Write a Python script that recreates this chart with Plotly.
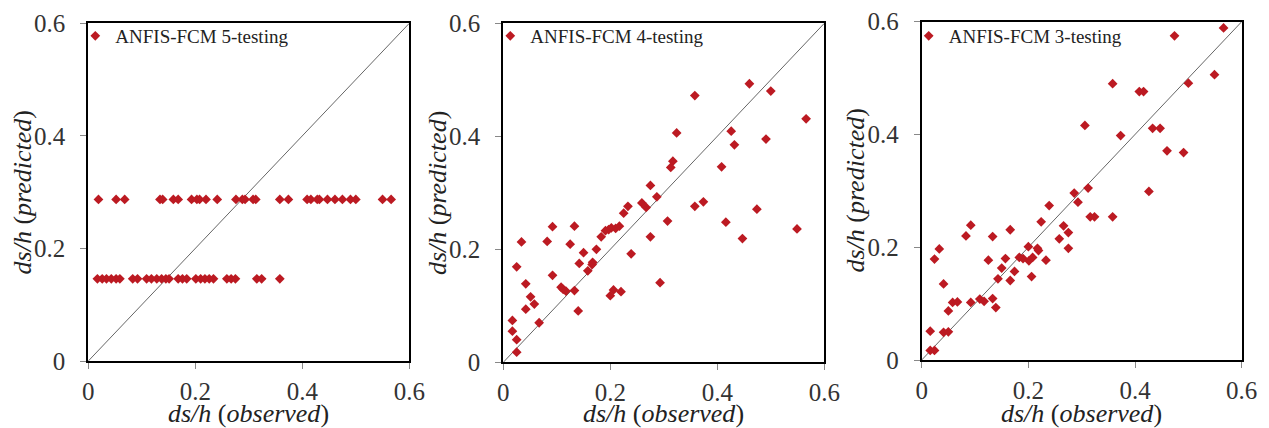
import plotly.graph_objects as go

# The page body adds an 8 px margin, so the figure is placed at (8, 8).
OFF = 8
W, H = 1269 - OFF, 428 - OFF

# ---------------- data ----------------
# ANFIS-FCM 5 (testing)
obs_fcm5 = [0.019, 0.052, 0.068, 0.134, 0.139, 0.159, 0.168, 0.193, 0.203, 0.208,
            0.220, 0.241, 0.276, 0.288, 0.293, 0.308, 0.313, 0.358, 0.374, 0.409,
            0.416, 0.428, 0.432, 0.447, 0.461, 0.475, 0.490, 0.500, 0.550, 0.566,
            0.017, 0.026, 0.034, 0.043, 0.052, 0.059, 0.083, 0.092, 0.109, 0.118,
            0.128, 0.137, 0.145, 0.151, 0.168, 0.176, 0.184, 0.201, 0.210, 0.218,
            0.226, 0.234, 0.259, 0.267, 0.275, 0.315, 0.324, 0.358]
pred_fcm5 = [0.287, 0.287, 0.287, 0.287, 0.287, 0.287, 0.287, 0.287, 0.287, 0.287,
             0.287, 0.287, 0.287, 0.287, 0.287, 0.287, 0.287, 0.287, 0.287, 0.287,
             0.287, 0.287, 0.287, 0.287, 0.287, 0.287, 0.287, 0.287, 0.287, 0.287,
             0.146, 0.146, 0.146, 0.146, 0.146, 0.146, 0.146, 0.146, 0.146, 0.146,
             0.146, 0.146, 0.146, 0.146, 0.146, 0.146, 0.146, 0.146, 0.146, 0.146,
             0.146, 0.146, 0.146, 0.146, 0.146, 0.146, 0.146, 0.146]

# ANFIS-FCM 4 (testing)
obs_fcm4 = [0.460, 0.500, 0.358, 0.566, 0.324, 0.426, 0.432, 0.491, 0.408, 0.317,
            0.313, 0.275, 0.287, 0.259, 0.267, 0.233, 0.225, 0.374, 0.358, 0.474,
            0.307, 0.416, 0.549, 0.447, 0.275, 0.217, 0.210, 0.202, 0.197, 0.191,
            0.183, 0.174, 0.150, 0.142, 0.167, 0.166, 0.158, 0.133, 0.092, 0.034,
            0.082, 0.125, 0.239, 0.025, 0.092, 0.042, 0.051, 0.058, 0.042, 0.108,
            0.112, 0.117, 0.133, 0.140, 0.206, 0.200, 0.220, 0.293, 0.067, 0.017,
            0.017, 0.025, 0.025]
pred_fcm4 = [0.493, 0.480, 0.472, 0.431, 0.406, 0.409, 0.385, 0.395, 0.346, 0.356,
             0.345, 0.313, 0.293, 0.282, 0.274, 0.276, 0.264, 0.284, 0.276, 0.271,
             0.250, 0.248, 0.236, 0.219, 0.222, 0.241, 0.237, 0.238, 0.235, 0.233,
             0.222, 0.200, 0.194, 0.175, 0.177, 0.173, 0.162, 0.241, 0.240, 0.213,
             0.214, 0.209, 0.192, 0.169, 0.154, 0.139, 0.116, 0.103, 0.094, 0.133,
             0.129, 0.126, 0.127, 0.091, 0.128, 0.118, 0.125, 0.141, 0.070, 0.074,
             0.055, 0.040, 0.018]

# ANFIS-FCM 3 (testing)
obs_fcm3 = [0.566, 0.474, 0.549, 0.500, 0.358, 0.408, 0.416, 0.306, 0.373, 0.433,
            0.447, 0.460, 0.491, 0.426, 0.286, 0.312, 0.293, 0.239, 0.316, 0.324,
            0.358, 0.224, 0.266, 0.275, 0.258, 0.275, 0.166, 0.092, 0.083, 0.133,
            0.033, 0.024, 0.125, 0.200, 0.217, 0.219, 0.208, 0.201, 0.233, 0.157,
            0.183, 0.190, 0.150, 0.174, 0.206, 0.143, 0.166, 0.041, 0.058, 0.067,
            0.092, 0.109, 0.117, 0.133, 0.139, 0.050, 0.041, 0.050, 0.016, 0.016,
            0.024]
pred_fcm3 = [0.589, 0.575, 0.506, 0.491, 0.490, 0.476, 0.476, 0.416, 0.398, 0.411,
             0.411, 0.371, 0.368, 0.299, 0.296, 0.305, 0.280, 0.274, 0.254, 0.254,
             0.254, 0.245, 0.238, 0.226, 0.215, 0.198, 0.231, 0.239, 0.220, 0.219,
             0.197, 0.179, 0.177, 0.201, 0.198, 0.194, 0.182, 0.176, 0.177, 0.180,
             0.182, 0.180, 0.163, 0.157, 0.148, 0.144, 0.141, 0.135, 0.102, 0.103,
             0.102, 0.108, 0.104, 0.109, 0.093, 0.087, 0.049, 0.050, 0.051, 0.017,
             0.017]

series_names = ["ANFIS-FCM 5-testing", "ANFIS-FCM 4-testing", "ANFIS-FCM 3-testing"]
diag_line = [0, 0.6]
tick_vals = [0, 0.2, 0.4, 0.6]
tick_text = ["0", "0.2", "0.4", "0.6"]
x_title = "<i>ds/h</i> (<i>observed</i>)"
y_title = "<i>ds/h</i> (<i>predicted</i>)"

# ---------------- layout helpers ----------------
SERIF = "Liberation Serif"
RED = "#BC1A22"

def px_x(p):
    return (p - OFF) / W

def px_y(p):
    return 1 - (p - OFF) / H

# panel frames in screen pixels: (left, right, top, bottom)
frames = [(88.3, 409.3, 23.3, 361.0),
          (503.3, 824.3, 23.3, 362.3),
          (921.7, 1241.7, 21.7, 360.0)]

series = [(obs_fcm5, pred_fcm5), (obs_fcm4, pred_fcm4), (obs_fcm3, pred_fcm3)]

fig = go.Figure()
layout = dict(
    template="none",
    width=W, height=H,
    margin=dict(l=0, r=0, t=0, b=0, autoexpand=False),
    paper_bgcolor="white", plot_bgcolor="white",
    showlegend=True,
    font=dict(family=SERIF, color="#222222"),
    annotations=[],
)

for i, ((xs, ys), name, fr) in enumerate(zip(series, series_names, frames)):
    n = "" if i == 0 else str(i + 1)
    xa, ya = "x" + n, "y" + n
    lg = "legend" + n
    fig.add_trace(go.Scatter(
        x=diag_line, y=diag_line, mode="lines",
        line=dict(color="#666666", width=1),
        xaxis=xa, yaxis=ya, showlegend=False, hoverinfo="skip"))
    fig.add_trace(go.Scatter(
        x=xs, y=ys, mode="markers", name=name,
        marker=dict(symbol="diamond", size=7.5, color=RED),
        xaxis=xa, yaxis=ya, legend=lg, showlegend=True))

    left, right, top, bottom = fr
    axis_common = dict(
        range=[0, 0.6], tickvals=tick_vals, ticktext=tick_text,
        showgrid=False, zeroline=False, automargin=False,
        showline=True, linecolor="black", linewidth=2, mirror=True,
        ticks="outside", ticklen=6, tickwidth=1, tickcolor="#888888",
        tickfont=dict(family=SERIF, size=25, color="#333333"),
        ticklabeloverflow="allow",
        fixedrange=True,
    )
    layout["xaxis" + n] = dict(axis_common, domain=[px_x(left), px_x(right)],
                               anchor=ya, ticklabelstandoff=1)
    layout["yaxis" + n] = dict(axis_common, domain=[px_y(bottom), px_y(top)],
                               anchor=xa, ticklabelstandoff=10)
    layout[lg] = dict(
        x=px_x(left - 13), y=px_y(36), xanchor="left", yanchor="middle",
        bgcolor="rgba(0,0,0,0)", borderwidth=0,
        font=dict(family=SERIF, size=19, color="#222222"),
    )
    layout["annotations"].append(dict(
        text=x_title, xref="paper", yref="paper",
        x=px_x((left + right) / 2), y=px_y(413),
        xanchor="center", yanchor="middle", showarrow=False,
        font=dict(family=SERIF, size=26, color="#222222")))
    layout["annotations"].append(dict(
        text=y_title, xref="paper", yref="paper", textangle=-90,
        x=px_x(left - 66), y=px_y((top + bottom) / 2),
        xanchor="center", yanchor="middle", showarrow=False,
        font=dict(family=SERIF, size=26, color="#222222")))

fig.update_layout(**layout)
fig.write_html("out.html")
